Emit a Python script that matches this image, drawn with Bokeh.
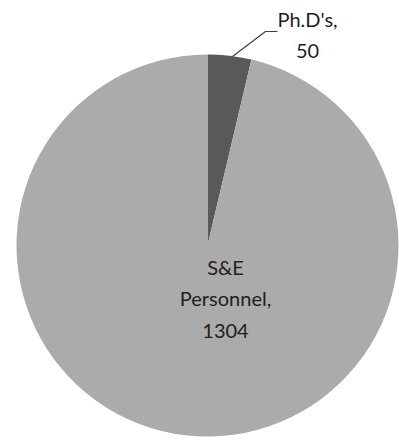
import numpy as np
from bokeh.plotting import figure
from bokeh.models import Range1d, ColumnDataSource
from bokeh.core.properties import value
from bokeh.embed import file_html
from bokeh.resources import INLINE

categories = ["Ph.D's", "S&E Personnel"]
values = [50, 1304]
colors = ["#595959", "#ababab"]
label_text = ["Ph.D's,\n50", "S&E\nPersonnel,\n1304"]

W, H = 399, 440
# data coords: x = page x, y = 440 - page y
p = figure(width=W, height=H, output_backend="svg", toolbar_location=None,
           x_range=Range1d(0, W), y_range=Range1d(0, H),
           min_border=0)
p.axis.visible = False
p.grid.visible = False
p.outline_line_color = None
p.background_fill_color = "white"
p.border_fill_color = "white"

cx, cy, r = 207, 440 - 245, 191
vals = np.array(values, dtype=float)
frac = vals / vals.sum()
ends = np.pi / 2 - 2 * np.pi * np.cumsum(frac)
starts = np.concatenate([[np.pi / 2], ends[:-1]])
src = ColumnDataSource(dict(start=starts, end=ends, color=colors))
p.wedge(x=cx, y=cy, radius=r, start_angle="start", end_angle="end",
        direction="clock", fill_color="color", line_color=None, source=src)

# leader line for small slice
p.line(x=[232, 265, 277], y=[440 - 56, 440 - 31, 440 - 31], line_color="#404040", line_width=1.2)

p.text(x=[307, 225], y=[440 - 34, 440 - 298], text=label_text,
       text_font=value("Lato"), text_font_size="20px", text_color="#1f1f1f",
       text_align="center", text_baseline="middle", text_line_height=1.3)

open("out.html", "w").write(file_html(p, INLINE))
